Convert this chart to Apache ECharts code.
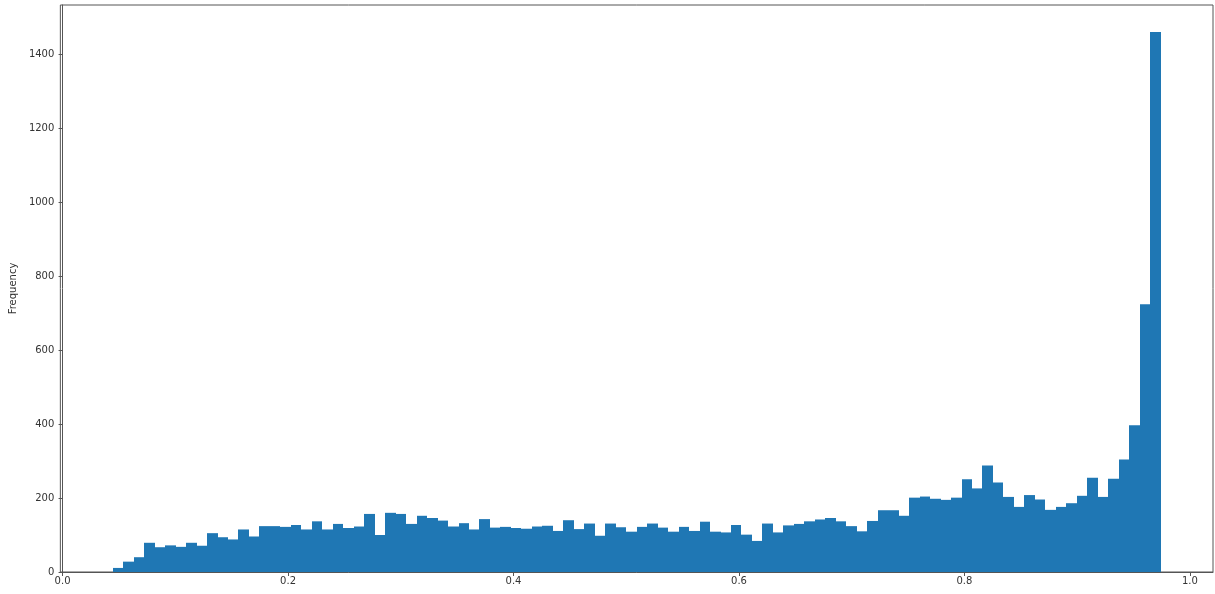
<!DOCTYPE html>
<html>
<head>
<meta charset="utf-8">
<script src="https://cdn.jsdelivr.net/npm/echarts@6/dist/echarts.min.js"></script>
<style>
  html, body { margin: 0; padding: 0; background: #fff; }
  #chart { width: 1215px; height: 594px; }
</style>
</head>
<body>
<div id="chart"></div>
<script>
// Histogram: 100 equal-width bins between binLow and binHigh
const binLow = 0.0445;
const binHigh = 0.974;
const binCount = 100;

// Count in each bin, left to right
const counts = [
  11, 28, 40, 79, 67, 72, 68, 79, 71, 105,
  94, 88, 115, 96, 124, 124, 122, 127, 115, 137,
  115, 130, 119, 123, 157, 100, 160, 157, 130, 152,
  146, 139, 123, 132, 115, 143, 120, 122, 119, 117,
  123, 125, 111, 140, 116, 131, 98, 131, 121, 109,
  122, 131, 120, 109, 122, 111, 136, 109, 107, 127,
  101, 84, 131, 107, 126, 130, 137, 142, 146, 137,
  124, 110, 138, 167, 167, 152, 201, 204, 198, 195,
  201, 251, 226, 288, 242, 203, 176, 208, 196, 168,
  176, 186, 206, 255, 203, 252, 304, 397, 724, 1460
];

const xTicks = [0.0, 0.2, 0.4, 0.6, 0.8, 1.0];
const yTicks = [0, 200, 400, 600, 800, 1000, 1200, 1400];

const binWidth = (binHigh - binLow) / binCount;
const bins = counts.map((c, i) => [binLow + i * binWidth, binLow + (i + 1) * binWidth, c]);

const span = binHigh - binLow;
const xMin = binLow - 0.05 * span;
const xMax = binHigh + 0.05 * span;
const yMax = Math.max(...counts) * 1.05;

const chart = echarts.init(document.getElementById('chart'), null, { renderer: 'canvas' });

const labelStyle = { color: '#333', fontSize: 10, fontFamily: 'DejaVu Sans' };

chart.setOption({
  animation: false,
  backgroundColor: '#fff',
  grid: {
    left: 60, top: 5, right: 2, bottom: 22,
    show: true, borderColor: '#555', borderWidth: 1, backgroundColor: 'transparent'
  },
  xAxis: {
    type: 'value',
    min: xMin,
    max: xMax,
    axisLine: { show: true, lineStyle: { color: '#555', width: 1 } },
    axisTick: { show: true, length: 4, lineStyle: { color: '#555' },
      customValues: xTicks },
    axisLabel: Object.assign({ margin: 4, showMinLabel: true, showMaxLabel: true,
      customValues: xTicks,
      formatter: v => v.toFixed(1) }, labelStyle),
    splitLine: { show: false }
  },
  yAxis: {
    type: 'value',
    min: 0,
    max: yMax,
    name: 'Frequency',
    nameLocation: 'middle',
    nameGap: 42,
    nameRotate: 90,
    nameTextStyle: { color: '#333', fontSize: 10, fontFamily: 'DejaVu Sans' },
    axisLine: { show: true, lineStyle: { color: '#555', width: 1 } },
    axisTick: { show: true, length: 4, lineStyle: { color: '#555' },
      customValues: yTicks },
    axisLabel: Object.assign({ margin: 6, customValues: yTicks,
      formatter: v => String(v) }, labelStyle),
    splitLine: { show: false }
  },
  series: [{
    type: 'custom',
    data: bins,
    encode: { x: [0, 1], y: 2 },
    clip: true,
    renderItem: function (params, api) {
      const p0 = api.coord([api.value(0), 0]);
      const p1 = api.coord([api.value(1), api.value(2)]);
      // snap bar edges to whole pixels so neighbouring bars meet without seams
      const x0 = Math.round(p0[0]);
      const x1 = Math.round(p1[0]);
      return {
        type: 'rect',
        shape: { x: x0, y: p1[1], width: x1 - x0, height: p0[1] - p1[1] },
        style: { fill: '#1f77b4' }
      };
    }
  }]
});
</script>
</body>
</html>
